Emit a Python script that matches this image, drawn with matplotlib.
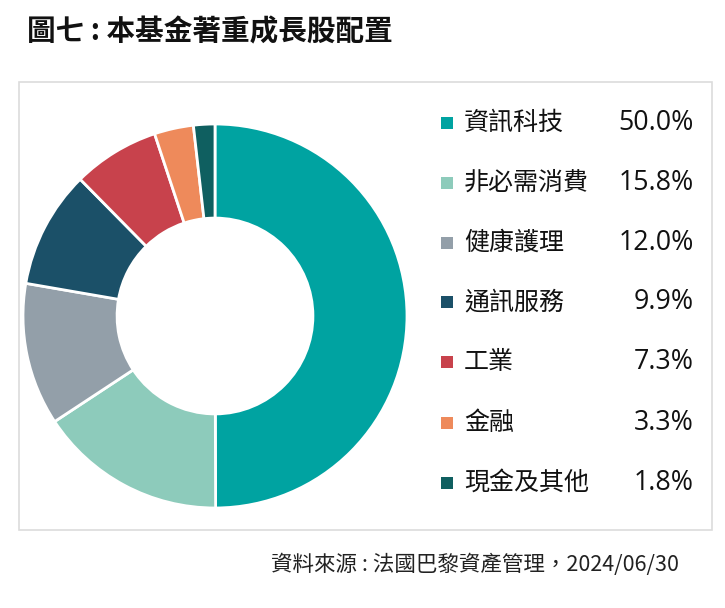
import matplotlib
matplotlib.use("Agg")
import matplotlib.pyplot as plt
from matplotlib.patches import Rectangle

categories = ["資訊科技", "非必需消費", "健康護理", "通訊服務", "工業", "金融", "現金及其他"]
values = [50.0, 15.8, 12.0, 9.9, 7.3, 3.3, 1.8]
labels_pct = ["50.0%", "15.8%", "12.0%", "9.9%", "7.3%", "3.3%", "1.8%"]
colors = ["#00A3A1", "#8DCBBB", "#939FA9", "#1B5068", "#C8424C", "#EE8A5B", "#0F5F60"]
title = "圖七 : 本基金著重成長股配置"
source = "資料來源 : 法國巴黎資產管理，2024/06/30"

W, H = 725, 608
fig = plt.figure(figsize=(W / 100, H / 100), dpi=100)
fam = ["Noto Sans CJK TC", "DejaVu Sans"]

def fx(px):
    return px / W

def fy(py):
    return 1 - py / H

# frame box
fig.patches.append(Rectangle((fx(19), fy(530)), fx(712) - fx(19), fy(82) - fy(530),
                             transform=fig.transFigure, fill=False,
                             edgecolor="#dcdcdc", linewidth=1.2))

# donut
cx, cy, r = 215, 316, 192
ax = fig.add_axes([fx(cx - r), fy(cy + r), 2 * r / W, 2 * r / H])
ax.pie(values, colors=colors, startangle=90, counterclock=False, radius=1,
       wedgeprops=dict(width=0.49, edgecolor="white", linewidth=2))
ax.set_xlim(-1, 1)
ax.set_ylim(-1, 1)
ax.set_aspect("equal")
ax.axis("off")

# title
fig.text(fx(27), fy(31), title, fontsize=20.6, fontweight="bold", family=fam,
         ha="left", va="center", color="#111111")

# legend
row_y = [123, 183, 243, 302, 362, 423, 483]
for cat, pct, col, yy in zip(categories, labels_pct, colors, row_y):
    fig.patches.append(Rectangle((fx(441), fy(yy + 6)), fx(12), 12 / H,
                                 transform=fig.transFigure, facecolor=col, edgecolor="none"))
    fig.text(fx(464), fy(yy), cat, fontsize=18, family=fam,
             ha="left", va="center", color="#111111")
    fig.text(fx(694), fy(yy), pct, fontsize=19.3, family=["Open Sans", "DejaVu Sans"],
             ha="right", va="center", color="#111111")

# source
fig.text(fx(679), fy(565), source, fontsize=15.5, family=fam, ha="right", va="center",
         color="#222222")

fig.savefig("out.png", dpi=100, facecolor="white")
